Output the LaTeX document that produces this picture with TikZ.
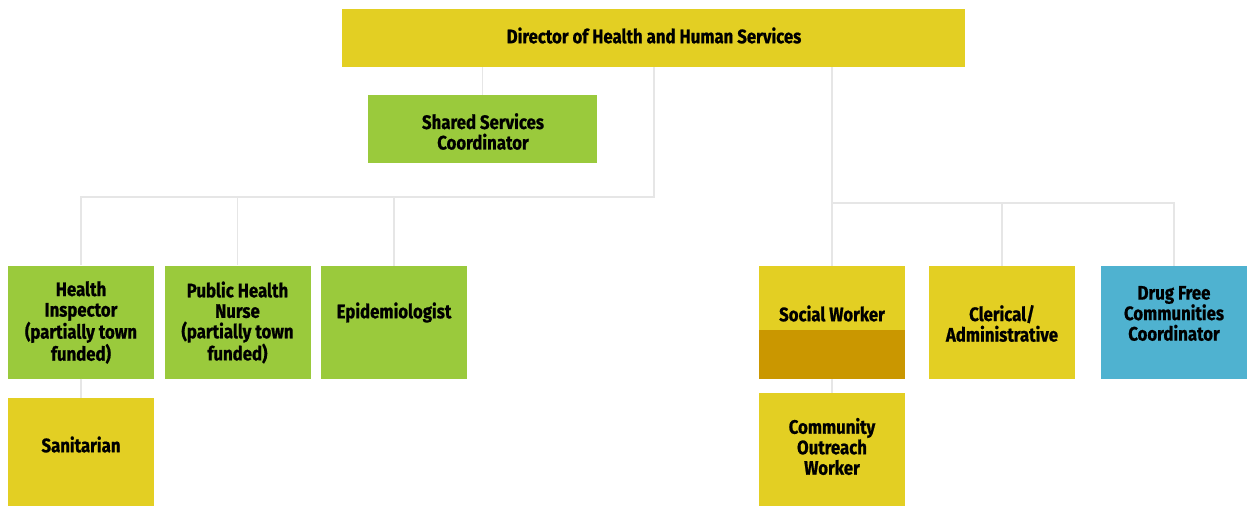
\documentclass[tikz,border=0pt]{standalone}
\usepackage{fontspec}
\setmainfont{Fira Sans}[FakeStretch=0.86, BoldFeatures={FakeBold=0.8}]
\usepackage{xcolor}
\definecolor{orgYellow}{RGB}{227,207,35}
\definecolor{orgGreen}{RGB}{154,202,60}
\definecolor{orgBlue}{RGB}{79,178,208}
\definecolor{orgDark}{RGB}{202,151,0}
\definecolor{orgLine}{RGB}{230,230,230}
\usepackage{tikz}
\usetikzlibrary{calc}

\begin{document}
\begin{tikzpicture}[x=1pt,y=-1pt,
    box/.style={rectangle, inner sep=0pt, minimum width=146pt, minimum height=113pt},
    txt/.style={align=center, font=\fontsize{19.5}{20.5}\selectfont\bfseries, inner sep=0pt},
    link/.style={draw=orgLine, line width=1.2pt}]
  \useasboundingbox (0,0) rectangle (1248,506);
  \begin{scope}
  \clip (0,0) rectangle (1248,506);
  % top and shared coordinator
  \node[box, fill=orgYellow, minimum width=623pt, minimum height=58pt] (dir) at (653.5,38) {};
  \node[box, fill=orgGreen, minimum width=229pt, minimum height=68pt] (ssc) at (482.5,129) {};
  % left group
  \node[box, fill=orgGreen] (hi)  at (81,322) {};
  \node[box, fill=orgGreen] (phn) at (237.5,322) {};
  \node[box, fill=orgGreen] (epi) at (394,322.5) {};
  \node[box, fill=orgYellow, minimum height=114pt] (san) at (81,455) {};
  % right group
  \node[box, fill=orgYellow] (sw)  at (832,322.5) {};
  \fill[orgDark] (sw.west |- 0,330) rectangle (sw.south east);
  \node[box, fill=orgYellow, minimum height=119pt] (cow) at (832,452.5) {};
  \node[box, fill=orgYellow] (cla) at (1002,322.5) {};
  \node[box, fill=orgBlue]   (dfc) at (1174,322.5) {};
  % connectors
  \coordinate (lsplit) at (654,197);
  \coordinate (rsplit) at (832,203);
  \draw[link] (dir.south -| ssc) -- (ssc.north);
  \draw[link] (dir.south -| lsplit) -- (lsplit) -| (hi.north);
  \draw[link] (lsplit) -| (phn.north);
  \draw[link] (lsplit) -| (epi.north);
  \draw[link] (hi.south) -- (san.north);
  \draw[link] (dir.south -| rsplit) -- (rsplit) -- (sw.north);
  \draw[link] (rsplit) -| (cla.north);
  \draw[link] (rsplit) -| (dfc.north);
  \draw[link] (sw.south) -- (cow.north);
  % labels
  \node[txt] (dir-t) at (654,35.5)  {Director of Health and Human Services};
  \node[txt] (ssc-t) at (483,131.5) {Shared Services\\Coordinator};
  \node[txt] (hi-t)  at (81,322.5)  {Health\\Inspector\\(partially town\\funded)};
  \node[txt] (phn-t) at (237.5,322.5) {Public Health\\Nurse\\(partially town\\funded)};
  \node[txt] (epi-t) at (394,312.5) {Epidemiologist};
  \node[txt] (san-t) at (81,444.5)  {Sanitarian};
  \node[txt] (sw-t)  at (832,313.5) {Social Worker};
  \node[txt] (cow-t) at (832,446.5) {Community\\Outreach\\Worker};
  \node[txt] (cla-t) at (1002,323.5) {Clerical/\\Administrative};
  \node[txt] (dfc-t) at (1174,313.5) {Drug Free\\Communities\\Coordinator};
  \end{scope}
\end{tikzpicture}
\end{document}
